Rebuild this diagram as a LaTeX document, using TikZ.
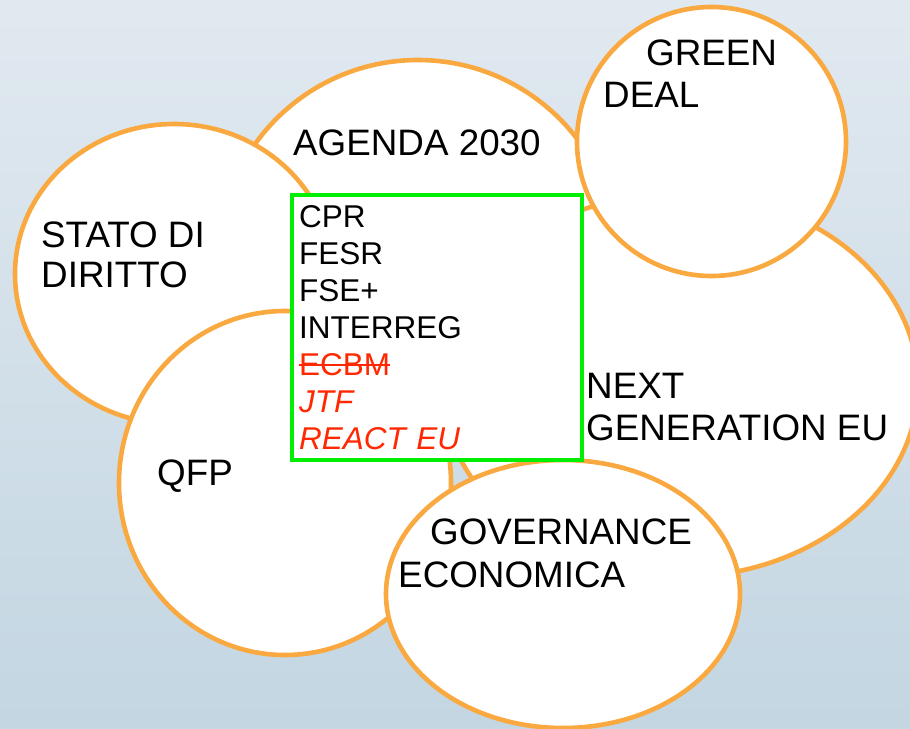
\documentclass[tikz,border=0pt]{standalone}
\usepackage{fontspec}
\setmainfont{Liberation Sans}
\definecolor{bgtop}{RGB}{225, 233, 240}
\definecolor{bgbottom}{RGB}{195, 214, 226}
\definecolor{ringorange}{RGB}{250, 168, 64}
\definecolor{boxgreen}{RGB}{0, 238, 0}
\definecolor{fundred}{RGB}{255, 40, 0}
\usetikzlibrary{shapes.geometric}
\newcommand{\struckout}[1]{\setbox0\hbox{#1}\rlap{\rule[0.3em]{\wd0}{1.6pt}}\box0}

\begin{document}
\begin{tikzpicture}[x=1pt, y=-1pt,
  bubble/.style={ellipse, draw=ringorange, fill=white, line width=4.6pt, inner sep=0pt},
  bubbletext/.style={anchor=base west, inner sep=0pt, align=left, font=\fontsize{36.8}{42}\selectfont}]
  % background
  \shade[top color=bgtop, bottom color=bgbottom] (0,0) rectangle (910,728);
  \useasboundingbox (0,0) rectangle (910,728);

  % bubbles, back to front
  \node[bubble, minimum width=400pt, minimum height=400pt] (agenda) at (418,260) {};
  \node[bubble, minimum width=476pt, minimum height=384pt] (nextgen) at (680,385) {};
  \node[bubble, minimum width=318pt, minimum height=300pt] (stato) at (174,274) {};
  \node[bubble, minimum width=332pt, minimum height=344pt] (qfp) at (285,483) {};
  \node[bubble, minimum width=269pt, minimum height=269pt] (green) at (711.5,141.5) {};
  \node[bubble, minimum width=354pt, minimum height=268pt] (gov) at (563,594) {};

  % funds box
  \node[draw=boxgreen, fill=white, line width=4.3pt, anchor=north west, minimum width=290.5pt, minimum height=265pt, text width=275.5pt, inner xsep=7.5pt, inner ysep=0pt, align=left, font=\fontsize{31.5}{37}\selectfont] (funds) at (289.5,193) {CPR\\FESR\\FSE+\\INTERREG\\\textcolor{fundred}{\struckout{ECBM}}\\\textcolor{fundred}{\itshape JTF}\\\textcolor{fundred}{\itshape REACT EU}};

  % labels (base = last line)
  \node[bubbletext] (agendatext) at (293,155) {AGENDA 2030};
  \node[bubbletext] (statotext) at (41,287) {STATO DI\\[-2pt]DIRITTO};
  \node[bubbletext] (qfptext) at (157,485) {QFP};
  \node[bubbletext] (nextgentext) at (586,440) {NEXT\\GENERATION EU};
  \node[bubbletext] (greentext) at (603,107) {\hspace*{43pt}GREEN\\DEAL};
  \node[bubbletext] (govtext) at (398,587) {\hspace*{32pt}GOVERNANCE\\[1pt]ECONOMICA};
\end{tikzpicture}
\end{document}
